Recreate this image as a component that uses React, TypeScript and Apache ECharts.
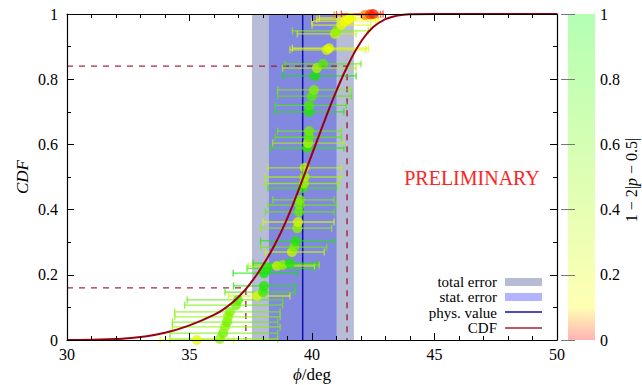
import React, { useEffect, useRef } from "react";
import * as echarts from "echarts";

// ---- data ----
const totalErr = [37.55, 41.71];
const statErr = [38.24, 41.0];
const physValue = 39.62;
const quantileLevels = [0.16, 0.84];
const quantileX = [37.3, 41.43];

const cdfX = [30, 31, 32, 33, 34, 35, 36, 36.5, 37, 37.5, 38, 38.5, 39, 39.5, 40, 40.5, 41, 41.5, 42, 42.5, 43, 43.5, 44, 45, 50];
const cdfY = [0, 0.001, 0.003, 0.009, 0.022, 0.045, 0.077, 0.1, 0.132, 0.175, 0.23, 0.295, 0.375, 0.47, 0.57, 0.67, 0.765, 0.848, 0.915, 0.96, 0.984, 0.995, 0.999, 1.0, 1.0];

const ptX = [35.3, 36.24, 36.37, 36.45, 36.53, 36.57, 36.65, 36.9, 36.98, 37.76, 38.0, 38.04, 38.04, 38.2, 38.57, 38.8, 39.1, 39.18, 39.27, 39.35, 39.4, 39.43, 39.47, 39.5, 39.5, 39.6, 39.67, 39.7, 39.7, 39.8, 39.84, 39.88, 39.88, 39.88, 39.88, 40.0, 40.08, 40.12, 40.2, 40.45, 40.6, 40.7, 40.94, 41.0, 41.2, 41.35, 41.5, 41.6, 42.16, 42.37, 42.5];
const ptY = [0.0, 0.003, 0.021, 0.04, 0.055, 0.071, 0.086, 0.107, 0.123, 0.135, 0.147, 0.166, 0.205, 0.22, 0.227, 0.23, 0.236, 0.27, 0.285, 0.304, 0.343, 0.362, 0.393, 0.414, 0.43, 0.466, 0.48, 0.5, 0.528, 0.589, 0.604, 0.622, 0.641, 0.7, 0.72, 0.748, 0.767, 0.81, 0.834, 0.847, 0.89, 0.895, 0.939, 0.948, 0.966, 0.978, 0.984, 0.988, 0.997, 0.999, 1.0];
const errLo = [33.8, 34.2, 34.2, 34.3, 34.3, 34.4, 34.4, 34.8, 34.9, 36.6, 36.45, 36.8, 36.78, 37.35, 37.4, 37.6, 37.6, 38.1, 37.9, 37.9, 37.9, 38.0, 38.1, 38.2, 38.4, 38.2, 38.1, 38.1, 38.2, 38.3, 38.4, 38.5, 38.6, 38.5, 38.5, 38.6, 38.6, 38.8, 38.8, 38.9, 39.1, 39.2, 39.4, 39.2, 40.0, 40.0, 40.2, 40.3, 40.9, 41.0, 41.2];
const errHi = [36.8, 38.6, 38.6, 38.7, 38.6, 38.7, 38.7, 38.8, 38.8, 39.1, 39.3, 39.3, 39.39, 40.1, 40.1, 40.3, 40.2, 40.5, 40.6, 40.9, 40.8, 40.9, 40.9, 41.0, 40.9, 41.0, 41.1, 41.2, 41.2, 41.3, 41.3, 41.2, 41.2, 41.3, 41.4, 41.6, 41.6, 41.8, 41.8, 42.0, 42.2, 42.3, 41.8, 42.3, 42.4, 42.6, 42.7, 42.7, 42.7, 42.8, 42.9];
const ptColor = [0.2, 0.5, 0.6, 0.5, 0.6, 0.5, 0.55, 0.6, 0.7, 0.25, 0.8, 0.9, 0.95, 0.9, 0.35, 0.5, 0.9, 0.3, 0.6, 0.9, 0.5, 0.25, 0.65, 0.6, 0.55, 0.8, 0.45, 0.4, 0.35, 0.85, 0.4, 0.7, 0.6, 0.9, 0.75, 0.7, 0.55, 0.95, 0.4, 0.7, 0.25, 0.2, 0.3, 0.5, 0.2, 0.15, 0.1, 0.15, 0.05, 0.02, 0.01];

const FONT = "'Liberation Serif', 'DejaVu Serif', serif";

function colorFor(c: number, a = 1): string {
  let r: number, g: number;
  if (c <= 0.1) {
    r = 255;
    g = Math.round(255 * (c / 0.1));
  } else {
    const t = (c - 0.1) / 0.9;
    r = Math.round(255 * (1 - t));
    g = Math.round(255 - 25 * t);
  }
  return `rgba(${r},${g},0,${a})`;
}

export default function App() {
  const ref = useRef<HTMLDivElement>(null);
  useEffect(() => {
    if (!ref.current) return;
    const chart = echarts.init(ref.current, null, { renderer: "svg" });

    const cdfData = cdfX.map((x, i) => [x, cdfY[i]]);
    const pts = ptX.map((x, i) => [x, ptY[i], ptColor[i]]);
    const bars = ptX.map((x, i) => [x, ptY[i], errLo[i], errHi[i], ptColor[i]]);

    const mainAxisCommon = {
      type: "value" as const,
      axisLine: { show: true, onZero: false, lineStyle: { color: "#000", width: 1.2 } },
      axisTick: { show: true, inside: true, length: 7, lineStyle: { color: "#000" } },
      splitLine: { show: false },
      z: 10,
    };

    const legendText = (text: string, y: number) => ({
      type: "text", x: 497, y,
      style: { text, font: `15px ${FONT}`, fill: "#000", align: "right", verticalAlign: "middle" },
    });

    const option: any = {
      animation: false,
      backgroundColor: "#fff",
      grid: [
        { left: 67, top: 14, width: 490, height: 326 },
        { left: 568, top: 14, width: 27, height: 326 },
      ],
      xAxis: [
        {
          ...mainAxisCommon, gridIndex: 0, min: 30, max: 50, interval: 5, position: "bottom",
          minorTick: { show: true, splitNumber: 5, length: 4, lineStyle: { color: "#000" } },
          axisLabel: { fontFamily: FONT, fontSize: 16, color: "#000", margin: 6 },
        },
        {
          ...mainAxisCommon, gridIndex: 0, min: 30, max: 50, interval: 5, position: "top",
          minorTick: { show: true, splitNumber: 5, length: 4, lineStyle: { color: "#000" } },
          axisLabel: { show: false },
        },
        { gridIndex: 1, type: "value", min: 0, max: 1, show: false },
      ],
      yAxis: [
        {
          ...mainAxisCommon, gridIndex: 0, min: 0, max: 1, interval: 0.2, position: "left",
          minorTick: { show: true, splitNumber: 2, length: 4, lineStyle: { color: "#000" } },
          axisLabel: { fontFamily: FONT, fontSize: 16, color: "#000", margin: 9 },
        },
        {
          ...mainAxisCommon, gridIndex: 0, min: 0, max: 1, interval: 0.2, position: "right",
          minorTick: { show: true, splitNumber: 2, length: 4, lineStyle: { color: "#000" } },
          axisLabel: { show: false },
        },
        {
          type: "value", gridIndex: 1, min: 0, max: 1, interval: 0.2, position: "right",
          axisLine: { show: false },
          axisTick: { show: true, inside: true, length: 7, lineStyle: { color: "#777" } },
          splitLine: { show: false },
          axisLabel: { fontFamily: FONT, fontSize: 16, color: "#000", margin: 5 },
          z: 10,
        },
        {
          type: "value", gridIndex: 1, min: 0, max: 1, interval: 0.2, position: "left",
          axisLine: { show: false },
          axisTick: { show: true, inside: true, length: 7, lineStyle: { color: "#777" } },
          splitLine: { show: false },
          axisLabel: { show: false },
          z: 10,
        },
      ],
      series: [
        {
          type: "line", xAxisIndex: 0, yAxisIndex: 0, data: [], z: 1, silent: true,
          markArea: {
            silent: true,
            data: [
              [{ coord: [totalErr[0], 0], itemStyle: { color: "#b7bdd6" } }, { coord: [totalErr[1], 1] }],
              [{ coord: [statErr[0], 0], itemStyle: { color: "#8288e0" } }, { coord: [statErr[1], 1] }],
            ],
          },
        },
        {
          type: "line", xAxisIndex: 0, yAxisIndex: 0, z: 2, symbol: "none", silent: true,
          data: [[physValue, 0], [physValue, 1]],
          lineStyle: { color: "#1010a8", width: 1.5 },
        },
        ...quantileLevels.map((q, i) => ({
          type: "line", xAxisIndex: 0, yAxisIndex: 0, z: 2, symbol: "none", silent: true,
          data: [[30, q], [quantileX[i], q], [quantileX[i], 0]],
          lineStyle: { color: "#a01030", width: 1.4, type: [6, 6], opacity: 0.9 },
        })),
        {
          type: "custom", xAxisIndex: 0, yAxisIndex: 0, z: 3, silent: true,
          data: bars,
          encode: { x: [0, 2, 3], y: 1 },
          renderItem: (params: any, api: any) => {
            const y = api.value(1);
            const lo = api.coord([api.value(2), y]);
            const hi = api.coord([api.value(3), y]);
            const col = colorFor(api.value(4), 0.75);
            const st = { stroke: col, lineWidth: 1.3 };
            return {
              type: "group",
              children: [
                { type: "line", shape: { x1: lo[0], y1: lo[1], x2: hi[0], y2: hi[1] }, style: st },
                { type: "line", shape: { x1: lo[0], y1: lo[1] - 3.5, x2: lo[0], y2: lo[1] + 3.5 }, style: st },
                { type: "line", shape: { x1: hi[0], y1: hi[1] - 3.5, x2: hi[0], y2: hi[1] + 3.5 }, style: st },
              ],
            };
          },
        },
        {
          type: "scatter", xAxisIndex: 0, yAxisIndex: 0, z: 4, silent: true,
          data: pts, symbolSize: 10,
          itemStyle: { color: (p: any) => colorFor(p.value[2], 0.95) },
        },
        {
          type: "line", xAxisIndex: 0, yAxisIndex: 0, z: 5, symbol: "none", silent: true,
          data: cdfData, smooth: 0.5,
          lineStyle: { color: "#9a0010", width: 2 },
        },
        {
          type: "line", xAxisIndex: 2, yAxisIndex: 2, data: [], z: 1, silent: true,
          markArea: {
            silent: true,
            data: [
              [
                {
                  coord: [0, 0],
                  itemStyle: {
                    color: new echarts.graphic.LinearGradient(0, 1, 0, 0, [
                      { offset: 0, color: "#ffb3b3" },
                      { offset: 0.1, color: "#ffffb3" },
                      { offset: 1, color: "#b3ffb3" },
                    ]),
                  },
                },
                { coord: [1, 1] },
              ],
            ],
          },
        },
      ],
      graphic: [
        {
          type: "text", x: 22, y: 177, rotation: Math.PI / 2,
          style: { text: "CDF", font: `italic 17px ${FONT}`, fill: "#000", align: "center", verticalAlign: "middle" },
        },
        {
          type: "text", x: 312, y: 374,
          style: {
            text: "{i|ϕ}/deg", font: `17px ${FONT}`, fill: "#000", align: "center", verticalAlign: "middle",
            rich: { i: { fontStyle: "italic", fontFamily: FONT, fontSize: 17 } },
          },
        },
        {
          type: "text", x: 631, y: 180, rotation: Math.PI / 2,
          style: {
            text: "1 − 2|{i|p} − 0.5|", font: `16px ${FONT}`, fill: "#000", align: "center", verticalAlign: "middle",
            rich: { i: { fontStyle: "italic", fontFamily: FONT, fontSize: 16 } },
          },
        },
        {
          type: "text", x: 472, y: 178,
          style: { text: "PRELIMINARY", font: `20px ${FONT}`, fill: "#ff2424", align: "center", verticalAlign: "middle" },
        },
        legendText("total error", 281.5),
        legendText("stat. error", 297),
        legendText("phys. value", 312.5),
        legendText("CDF", 328),
        { type: "rect", shape: { x: 505, y: 278, width: 37, height: 8 }, style: { fill: "#b5bcd4" } },
        { type: "rect", shape: { x: 505, y: 293, width: 37, height: 8 }, style: { fill: "#b3b3ff" } },
        { type: "line", shape: { x1: 505, y1: 312, x2: 542, y2: 312 }, style: { stroke: "#1010a8", lineWidth: 1.5 } },
        { type: "line", shape: { x1: 505, y1: 328, x2: 542, y2: 328 }, style: { stroke: "#a82030", lineWidth: 1.5 } },
      ],
    };
    chart.setOption(option);
    return () => chart.dispose();
  }, []);
  return <div ref={ref} style={{ position: "fixed", left: 0, top: 0, width: 642, height: 385 }} />;
}
